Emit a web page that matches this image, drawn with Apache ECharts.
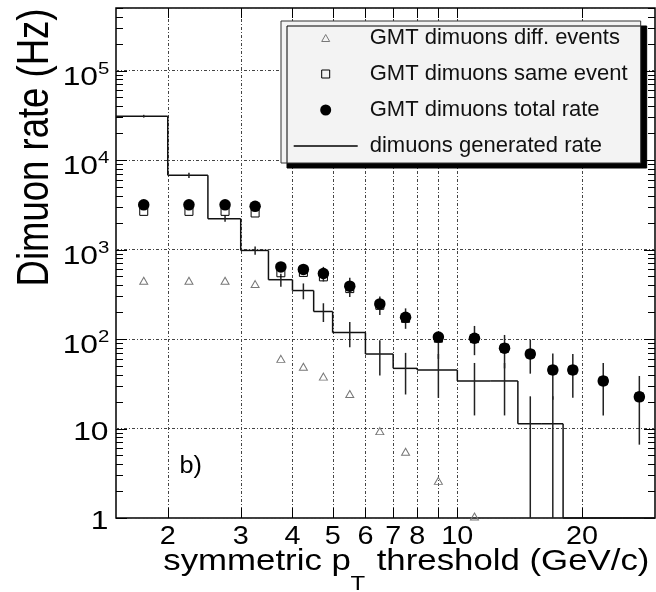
<!DOCTYPE html>
<html><head><meta charset="utf-8">
<script src="https://cdn.jsdelivr.net/npm/echarts@6/dist/echarts.min.js"></script>
<style>html,body{margin:0;padding:0;background:#fff}#c{width:656px;height:592px}</style>
</head><body><div id="c"></div>
<script>
// ---- data ----
const xMin = 1.5, xMax = 30, yMin = 1, yMax = 5e5;
const seriesNames = ['GMT dimuons diff. events', 'GMT dimuons same event', 'GMT dimuons total rate', 'dimuons generated rate'];
const pointX = [1.75, 2.25, 2.75, 3.25, 3.75, 4.25, 4.75, 5.5, 6.5, 7.5, 9, 11, 13, 15, 17, 19, 22.5, 27.5];
const diffEvents = [448, 448, 448, 411, 60, 49, 38, 24.3, 9.35, 5.5, 2.6, 1.04, null, null, null, null, null, null];
const sameEvent = [2670, 2670, 2670, 2560, 550, 555, 495, 366, 238, 170, 102, 101, 79, 68, 45, 45, 34, 22.6];
const totalRate = [3160, 3160, 3160, 3040, 640, 600, 540, 390, 247, 175, 105, 102, 79, 68, 45, 45, 34, 22.6];
const totalErrLow = [150, 150, 150, 150, 80, 80, 100, 95, 61, 45, 45, 36, 32, 27, 24, 23, 20, 16];
const totalErrHigh = [150, 150, 150, 150, 80, 80, 100, 95, 51, 45, 10, 38, 32, 31, 24, 23, 20, 16];
const histEdges = [1.5, 2, 2.5, 3, 3.5, 4, 4.5, 5, 6, 7, 8, 10, 12, 14, 16, 18, 20, 25, 30];
const histValues = [30900, 6760, 2213, 977, 460, 348, 203, 118, 68, 47, 45, 34, 34, 11.3, 11.3, 0, 0, 0];
const histErrors = [1100, 450, 170, 105, 75, 70, 48, 37, 29, 23, 23, 20, 20, 11.6, 11.6, 0, 0, 0];
const xGridValues = [2, 3, 4, 5, 6, 7, 8, 9, 10, 20];
const xTickLabelValues = [2, 3, 4, 5, 6, 7, 8, 10, 20];
const xTickLabels = ['2', '3', '4', '5', '6', '7', '8', '10', '20'];
const yTickValues = [1, 10, 100, 1000, 10000, 100000];
const yTickBase = ['1', '10', '10', '10', '10', '10'];
const yTickExp = ['', '', '2', '3', '4', '5'];
const yMinorFactors = [2, 3, 4, 5, 6, 7, 8, 9];

const FONT = 'Liberation Sans';
const clampY = v => Math.min(Math.max(v, yMin), yMax);
const crisp = v => Math.round(v) + 0.5;

const yTickData = [];
yTickValues.forEach(v => {
  yTickData.push([xMin, v, 1]);
  yMinorFactors.forEach(f => { if (v * f <= yMax) yTickData.push([xMin, v * f, 0]); });
});

// legend icons (padded paths keep their size inside the 11px icon box)
const ICON_TRIANGLE = 'path://M0,0M11,11M1.5,9L5.5,2L9.5,9Z';
const ICON_SQUARE = 'path://M0,0M11,11M1.5,1.5H9.5V9.5H1.5Z';
const ICON_LINE = 'path://M0,0H64V1.5H0Z';

const chart = echarts.init(document.getElementById('c'), null, {renderer: 'canvas'});
chart.setOption({
  animation: false,
  backgroundColor: '#fff',
  grid: {show: true, left: 116, top: 8, right: 1, bottom: 74, borderColor: '#000', borderWidth: 1.5, backgroundColor: 'transparent'},
  xAxis: {type: 'log', logBase: 10, min: xMin, max: xMax,
    axisLine: {show: false}, axisTick: {show: false}, axisLabel: {show: false}, splitLine: {show: false}, minorTick: {show: false}},
  yAxis: {type: 'log', logBase: 10, min: yMin, max: yMax,
    axisLine: {show: false}, axisTick: {show: false}, axisLabel: {show: false},
    splitLine: {show: true, lineStyle: {color: '#444', width: 1, type: [3, 2, 1, 2]}}},
  legend: {
    left: 281, top: 21, orient: 'vertical', selectedMode: false,
    padding: [6, 13, 6, 12.7],
    itemWidth: 64, itemHeight: 11, itemGap: 14, symbolKeepAspect: true,
    backgroundColor: '#f3f3f3', borderColor: '#333', borderWidth: 1,
    shadowColor: '#000', shadowBlur: 0, shadowOffsetX: 6, shadowOffsetY: 5,
    textStyle: {fontFamily: FONT, fontSize: 22, color: '#111', lineHeight: 22, padding: [0, 0, 0, 7]},
    data: [
      {name: seriesNames[0], icon: ICON_TRIANGLE, itemStyle: {color: 'rgba(0,0,0,0)', borderColor: '#777', borderWidth: 1, opacity: 1}},
      {name: seriesNames[1], icon: ICON_SQUARE, itemStyle: {color: 'rgba(0,0,0,0)', borderColor: '#000', borderWidth: 1, opacity: 1}},
      {name: seriesNames[2], icon: 'circle', itemStyle: {color: '#000', borderWidth: 0, opacity: 1}},
      {name: seriesNames[3], icon: ICON_LINE, itemStyle: {color: '#000', borderWidth: 0, opacity: 1}}
    ]
  },
  graphic: [
    {type: 'text', x: 163.3, y: 561.5, scaleX: 1.2, silent: true,
      style: {text: 'symmetric p', fontSize: 29, fontFamily: FONT, fill: '#000', align: 'left', verticalAlign: 'middle'}},
    {type: 'text', x: 350.5, y: 584, scaleX: 1.2, silent: true,
      style: {text: 'T', fontSize: 20, fontFamily: FONT, fill: '#000', align: 'left', verticalAlign: 'middle'}},
    {type: 'text', x: 367, y: 561.5, scaleX: 1.2, silent: true,
      style: {text: ' threshold (GeV/c)', fontSize: 29, fontFamily: FONT, fill: '#000', align: 'left', verticalAlign: 'middle'}},
    {type: 'text', x: 36, y: 147.5, rotation: Math.PI / 2, scaleY: 1.2, silent: true,
      style: {text: 'Dimuon rate (Hz)', fontSize: 36.5, fontFamily: FONT, fill: '#000', align: 'center', verticalAlign: 'middle'}},
    {type: 'text', x: 179.5, y: 467, scaleX: 1.1, silent: true,
      style: {text: 'b)', fontSize: 23, fontFamily: FONT, fill: '#000', align: 'left', verticalAlign: 'middle'}}
  ],
  series: [
    { // vertical grid lines and x ticks
      type: 'custom', silent: true, z: 1,
      data: xGridValues.map(v => [v, yMin]), encode: {x: 0, y: 1},
      renderItem(params, api) {
        const b = api.coord([api.value(0), yMin]), t = api.coord([api.value(0), yMax]);
        const x = crisp(b[0]);
        return {type: 'group', children: [
          {type: 'line', shape: {x1: x, y1: b[1], x2: x, y2: t[1]}, style: {stroke: '#444', lineWidth: 1, lineDash: [3, 2, 1, 2]}},
          {type: 'line', shape: {x1: x, y1: b[1], x2: x, y2: b[1] - 10}, style: {stroke: '#000', lineWidth: 1}},
          {type: 'line', shape: {x1: x, y1: t[1], x2: x, y2: t[1] + 10}, style: {stroke: '#000', lineWidth: 1}}
        ]};
      }
    },
    { // x tick labels
      type: 'custom', silent: true, z: 1,
      data: xTickLabelValues.map((v, i) => [v, yMin, i]), encode: {x: 0, y: 1},
      renderItem(params, api) {
        const p = api.coord([api.value(0), yMin]);
        return {type: 'text', x: p[0], y: p[1] + 19, scaleX: 1.15,
          style: {text: xTickLabels[api.value(2)], fontSize: 25, fontFamily: FONT, fill: '#000', align: 'center', verticalAlign: 'middle'}};
      }
    },
    { // y ticks (left and right, major and minor)
      type: 'custom', silent: true, z: 1,
      data: yTickData, encode: {x: 0, y: 1},
      renderItem(params, api) {
        const l = api.coord([xMin, api.value(1)]), r = api.coord([xMax, api.value(1)]);
        const len = api.value(2) ? 11 : 7;
        const y = crisp(l[1]);
        return {type: 'group', children: [
          {type: 'line', shape: {x1: l[0], y1: y, x2: l[0] + len, y2: y}, style: {stroke: '#000', lineWidth: 1}},
          {type: 'line', shape: {x1: r[0], y1: y, x2: r[0] - len, y2: y}, style: {stroke: '#000', lineWidth: 1}}
        ]};
      }
    },
    { // y tick labels
      type: 'custom', silent: true, z: 1,
      data: yTickValues.map((v, i) => [xMin, v, i]), encode: {x: 0, y: 1},
      renderItem(params, api) {
        const i = api.value(2);
        const p = api.coord([xMin, api.value(1)]);
        if (!yTickExp[i]) {
          return {type: 'text', x: p[0] - 7.5, y: p[1] + 4, scaleX: 1.2,
            style: {text: yTickBase[i], fontSize: 26.5, fontFamily: FONT, fill: '#000', align: 'right', verticalAlign: 'middle'}};
        }
        return {type: 'group', children: [
          {type: 'text', x: p[0] - 18, y: p[1] + 7, scaleX: 1.2,
            style: {text: yTickBase[i], fontSize: 26.5, fontFamily: FONT, fill: '#000', align: 'right', verticalAlign: 'middle'}},
          {type: 'text', x: p[0] - 18, y: p[1] - 1.5, scaleX: 1.2,
            style: {text: yTickExp[i], fontSize: 17, fontFamily: FONT, fill: '#000', align: 'left', verticalAlign: 'middle'}}
        ]};
      }
    },
    { // generated rate histogram with error bars
      type: 'custom', name: seriesNames[3], silent: true, z: 2,
      itemStyle: {color: '#000'},
      data: histValues.map((v, i) => [histEdges[i], histEdges[i + 1], v, i + 1 < histValues.length ? histValues[i + 1] : 0, histErrors[i]]),
      encode: {x: 0, y: 2},
      renderItem(params, api) {
        const lo = api.value(0), hi = api.value(1), v = api.value(2), vn = api.value(3), err = api.value(4);
        const a = api.coord([lo, clampY(v)]), b = api.coord([hi, clampY(v)]), c = api.coord([hi, clampY(vn)]);
        const st = {stroke: '#111', lineWidth: 1.5};
        const ch = [
          {type: 'line', shape: {x1: a[0], y1: a[1], x2: b[0], y2: b[1]}, style: st},
          {type: 'line', shape: {x1: b[0], y1: b[1], x2: c[0], y2: c[1]}, style: st}
        ];
        if (err > 0) {
          const xc = (lo + hi) / 2;
          const e1 = api.coord([xc, clampY(v - err)]), e2 = api.coord([xc, clampY(v + err)]);
          ch.push({type: 'line', shape: {x1: e1[0], y1: e1[1], x2: e2[0], y2: e2[1]}, style: {stroke: '#222', lineWidth: 1.5}});
        }
        return {type: 'group', children: ch};
      }
    },
    {
      type: 'scatter', name: seriesNames[0], silent: true, z: 3,
      symbol: 'triangle', symbolSize: [8, 7],
      itemStyle: {color: 'rgba(0,0,0,0)', borderColor: '#777', borderWidth: 1, opacity: 1},
      data: pointX.map((x, i) => [x, diffEvents[i]]).filter(d => d[1] != null)
    },
    {
      type: 'scatter', name: seriesNames[1], silent: true, z: 4,
      symbol: 'rect', symbolSize: 8,
      itemStyle: {color: 'rgba(255,255,255,0)', borderColor: '#000', borderWidth: 1, opacity: 1},
      data: pointX.map((x, i) => [x, sameEvent[i]])
    },
    { // total rate error bars
      type: 'custom', silent: true, z: 5,
      data: pointX.map((x, i) => [x, totalRate[i], totalErrLow[i], totalErrHigh[i]]), encode: {x: 0, y: 1},
      renderItem(params, api) {
        const x = api.value(0), v = api.value(1);
        const p1 = api.coord([x, clampY(v - api.value(2))]), p2 = api.coord([x, clampY(v + api.value(3))]);
        return {type: 'line', shape: {x1: p1[0], y1: p1[1], x2: p2[0], y2: p2[1]}, style: {stroke: '#222', lineWidth: 1.5}};
      }
    },
    {
      type: 'scatter', name: seriesNames[2], silent: true, z: 6,
      symbol: 'circle', symbolSize: 11.5,
      itemStyle: {color: '#000', opacity: 1},
      data: pointX.map((x, i) => [x, totalRate[i]])
    }
  ]
});
</script></body></html>
